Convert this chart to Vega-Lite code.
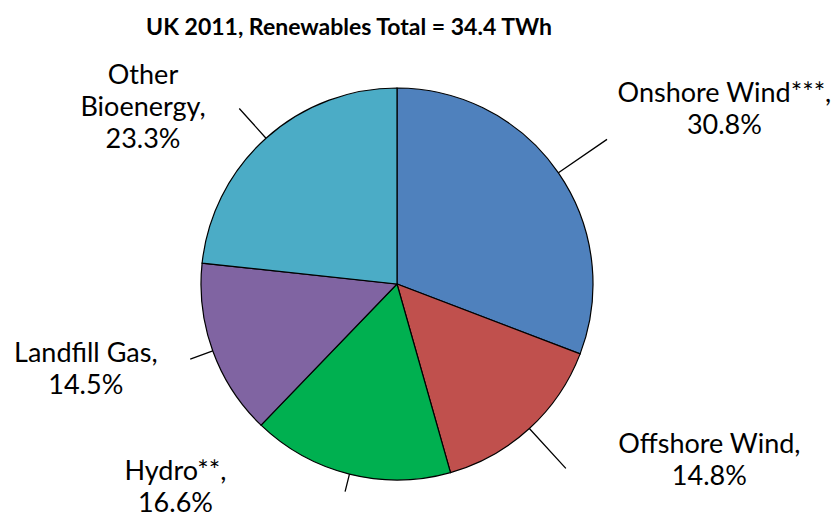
{
  "$schema": "https://vega.github.io/schema/vega-lite/v6.json",
  "width": 794,
  "height": 476,
  "autosize": "none",
  "padding": {"left": 0, "top": 46, "right": 45, "bottom": 0},
  "background": "white",
  "config": {"view": {"stroke": null}},
  "title": {
    "text": "UK 2011, Renewables Total = 34.4 TWh",
    "font": "Lato",
    "fontSize": 23,
    "fontWeight": "bold",
    "color": "#000000",
    "anchor": "middle",
    "baseline": "alphabetic",
    "offset": 16,
    "dx": -48,
    "dy": 28
  },
  "data": {
    "values": [
      {"idx": 1, "category": "Onshore Wind***", "value": 30.8, "label": "Onshore Wind***,\n30.8%"},
      {"idx": 2, "category": "Offshore Wind", "value": 14.8, "label": "Offshore Wind,\n14.8%"},
      {"idx": 3, "category": "Hydro**", "value": 16.6, "label": "Hydro**,\n16.6%"},
      {"idx": 4, "category": "Landfill Gas", "value": 14.5, "label": "Landfill Gas,\n14.5%"},
      {"idx": 5, "category": "Other Bioenergy", "value": 23.3, "label": "Other\nBioenergy,\n23.3%"}
    ]
  },
  "encoding": {
    "theta": {"field": "value", "type": "quantitative", "stack": true},
    "order": {"field": "idx", "type": "quantitative"}
  },
  "layer": [
    {
      "mark": {"type": "arc", "outerRadius": 196, "stroke": "#000000", "strokeWidth": 1.2},
      "encoding": {
        "color": {
          "field": "category",
          "type": "nominal",
          "legend": null,
          "scale": {
            "domain": ["Onshore Wind***", "Offshore Wind", "Hydro**", "Landfill Gas", "Other Bioenergy"],
            "range": ["#4F81BD", "#C0504D", "#00B050", "#8064A2", "#4BACC6"]
          }
        }
      }
    },
    {
      "mark": {
        "type": "arc",
        "innerRadius": 196,
        "outerRadius": {"expr": "datum.category === 'Onshore Wind***' ? 255 : datum.category === 'Offshore Wind' ? 250 : datum.category === 'Hydro**' ? 214 : datum.category === 'Landfill Gas' ? 220 : 236"},
        "padAngle": 3,
        "fill": null,
        "fillOpacity": 0,
        "stroke": "#000000",
        "strokeWidth": 1.3
      },
      "encoding": {
        "detail": {"field": "category", "type": "nominal"}
      }
    },
    {
      "mark": {
        "type": "text",
        "radius": 196,
        "font": "Lato",
        "fontSize": 27,
        "lineBreak": "\n",
        "lineHeight": 32,
        "align": "center",
        "baseline": "middle",
        "color": "#000000",
        "dx": {"expr": "datum.category === 'Onshore Wind***' ? 166 : datum.category === 'Offshore Wind' ? 180 : datum.category === 'Hydro**' ? -174 : datum.category === 'Landfill Gas' ? -127 : -123"},
        "dy": {"expr": "datum.category === 'Onshore Wind***' ? -79 : datum.category === 'Offshore Wind' ? 16 : datum.category === 'Hydro**' ? -2 : datum.category === 'Landfill Gas' ? 3 : -62"}
      },
      "encoding": {
        "detail": {"field": "category", "type": "nominal"},
        "text": {"field": "label", "type": "nominal"}
      }
    }
  ]
}
